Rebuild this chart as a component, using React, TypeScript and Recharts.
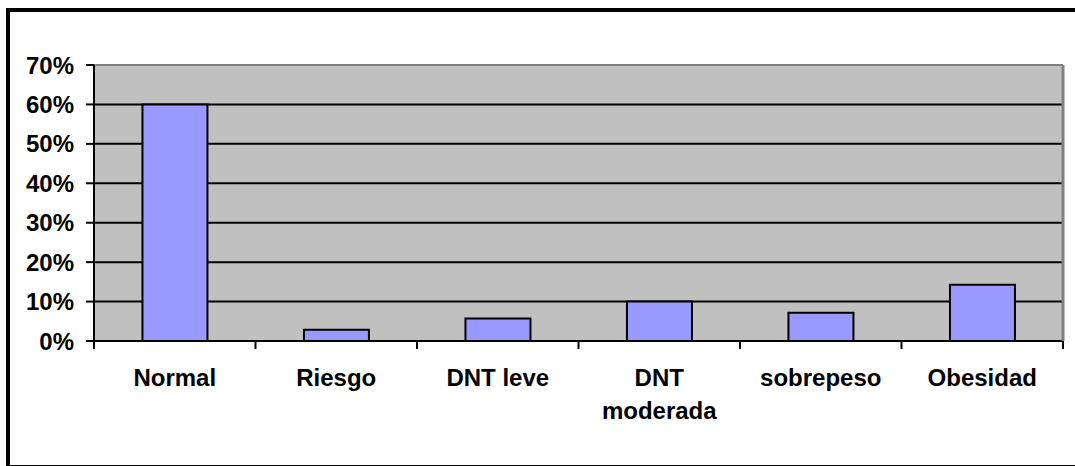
import { BarChart, Bar, XAxis, YAxis, CartesianGrid, ReferenceLine } from "recharts";

const categories = ["Normal", "Riesgo", "DNT leve", "DNT moderada", "sobrepeso", "Obesidad"];
const shares = [0.6, 0.0286, 0.0571, 0.1, 0.0714, 0.1429];
const yTicks = [0, 0.1, 0.2, 0.3, 0.4, 0.5, 0.6, 0.7];

const data = categories.map((name, i) => ({ name, value: shares[i] }));

const FONT = '"Liberation Sans", Arial, sans-serif';

// long labels wrap at the space, like Excel does
const wrapLabel = (s: string) => (s.length > 10 && s.includes(" ") ? s.split(" ") : [s]);

// label plus tick marks on the category boundaries (Excel style)
const CategoryTick = (props: any) => {
  const { x, y, payload, index, visibleTicksCount } = props;
  const half = payload.offset || 0;
  const lines = wrapLabel(payload.value);
  const last = index === visibleTicksCount - 1;
  return (
    <g>
      <line x1={x - half} x2={x - half} y1={y} y2={y + 8} stroke="#000" strokeWidth={2} />
      {last && <line x1={x + half} x2={x + half} y1={y} y2={y + 8} stroke="#000" strokeWidth={2} />}
      <text x={x} y={y} textAnchor="middle" fontFamily={FONT} fontWeight="bold" fontSize={24} fill="#000">
        {lines.map((l, i) => (
          <tspan key={i} x={x} dy={i === 0 ? 45 : 33}>
            {l}
          </tspan>
        ))}
      </text>
    </g>
  );
};

export default function App() {
  return (
    <div style={{ position: "absolute", left: 0, top: 0, width: 1075, height: 466, background: "#fff", overflow: "hidden" }}>
      <div
        style={{
          position: "absolute",
          left: 6,
          top: 8,
          width: 1120,
          height: 458,
          boxSizing: "border-box",
          borderLeft: "4px solid #000",
          borderTop: "4px solid #000",
          borderBottom: "1px solid #000",
        }}
      />
      <div style={{ position: "absolute", left: 0, top: 0 }}>
        <BarChart
          width={1075}
          height={466}
          data={data}
          margin={{ top: 65, right: 0, bottom: 65, left: 0 }}
          barCategoryGap="30%"
        >
          <CartesianGrid
            vertical={false}
            stroke="#000"
            strokeWidth={2}
            fill="#C0C0C0"
            fillOpacity={1}
            yAxisId="l"
          />
          <XAxis
            dataKey="name"
            height={60}
            axisLine={{ stroke: "#000", strokeWidth: 2 }}
            tickLine={false}
            tickSize={0}
            tickMargin={0}
            interval={0}
            tick={<CategoryTick />}
          />
          <YAxis
            yAxisId="l"
            width={94}
            domain={[0, 0.7]}
            ticks={yTicks}
            tickFormatter={(v: number) => `${Math.round(v * 100)}%`}
            tickSize={8}
            tickMargin={12}
            axisLine={{ stroke: "#000", strokeWidth: 2 }}
            tickLine={{ stroke: "#000", strokeWidth: 2 }}
            tick={{ fill: "#000", fontFamily: FONT, fontWeight: "bold", fontSize: 24 }}
          />
          <YAxis
            yAxisId="r"
            orientation="right"
            width={12}
            domain={[0, 0.7]}
            tick={false}
            tickLine={false}
            axisLine={{ stroke: "#808080", strokeWidth: 3 }}
          />
          <ReferenceLine yAxisId="l" y={0.7} stroke="#808080" strokeWidth={2} />
          <Bar
            dataKey="value"
            yAxisId="l"
            fill="#9999FF"
            stroke="#000"
            strokeWidth={2}
            isAnimationActive={false}
          />
        </BarChart>
      </div>
    </div>
  );
}
